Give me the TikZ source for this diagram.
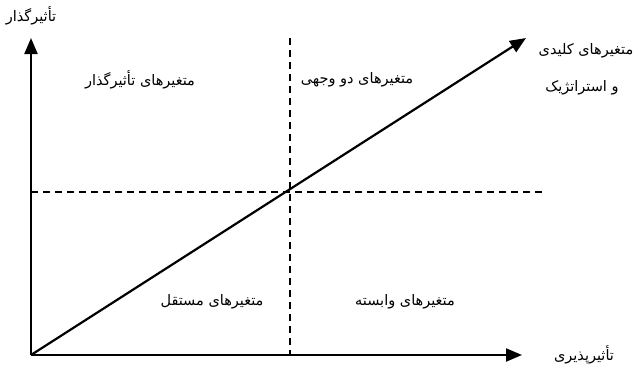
\documentclass[tikz,border=0pt]{standalone}
\usepackage{fontspec}
\newfontfamily\arabicfont[Script=Arabic]{DejaVu Sans}
\TeXXeTstate=1
\usetikzlibrary{arrows.meta}
\tikzset{
  axis/.style={line width=2.2pt,-{Triangle[length=16pt,width=13pt]}},
  guide/.style={line width=1.5pt,dash pattern=on 7pt off 5pt},
  lbl/.style={font=\arabicfont\fontsize{14.5}{17}\selectfont,inner sep=1pt}
}
\newcommand{\fa}[1]{\beginR #1\endR}
\begin{document}
\begin{tikzpicture}[x=1pt,y=-1pt]
\useasboundingbox (0,0) rectangle (640,370);
\coordinate (o) at (31,355);
\coordinate (ytop) at (31,38);
\coordinate (xend) at (522,355);
\coordinate (dend) at (526,38);
\coordinate (vtop) at (290,38);
\coordinate (vbot) at (290,355);
\coordinate (hl) at (31,192);
\coordinate (hr) at (545,192);
\draw[guide] (vtop) -- (vbot);
\draw[guide] (hl) -- (hr);
\draw[axis] (o) -- (ytop);
\draw[axis] (o) -- (xend);
\draw[axis] (o) -- (dend);
\node[lbl] (ylab) at (31,16) {\fa{تأثیرگذار}};
\node[lbl] (xlab) at (584,355) {\fa{تأثیرپذیری}};
\node[lbl] (q1) at (140,80) {\fa{متغیرهای تأثیرگذار}};
\node[lbl] (q2) at (357,80) {\fa{متغیرهای دو وجهی}};
\node[lbl] (k1) at (586,51) {\fa{متغیرهای کلیدی}};
\node[lbl] (k2) at (582,88) {\fa{و استراتژیک}};
\node[lbl] (q3) at (212,302) {\fa{متغیرهای مستقل}};
\node[lbl] (q4) at (405,302) {\fa{متغیرهای وابسته}};
\end{tikzpicture}
\end{document}
